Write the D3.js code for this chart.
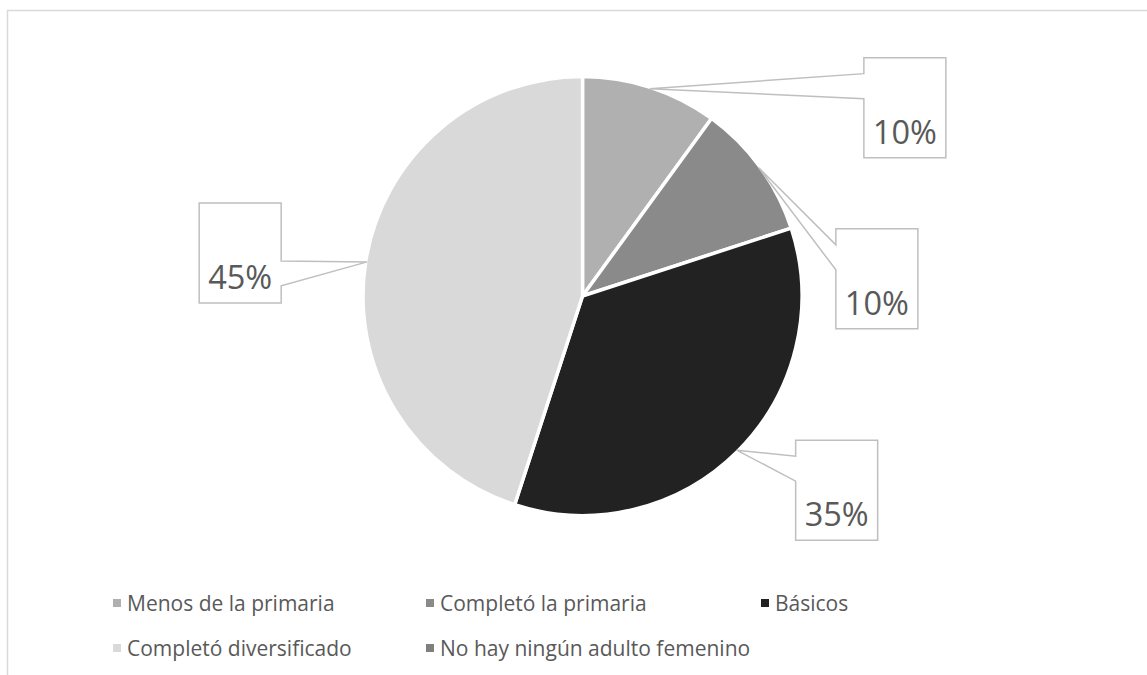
<!DOCTYPE html>
<html>
<head>
<meta charset="utf-8">
<script src="https://cdn.jsdelivr.net/npm/d3@7/dist/d3.min.js"></script>
<style>
  html, body { margin: 0; padding: 0; background: #fff; }
  svg { display: block; }
</style>
</head>
<body>
<svg id="chart" width="1147" height="675"></svg>
<script>
// Nivel educativo del adulto femenino del hogar
const categories = [
  "Menos de la primaria",
  "Completó la primaria",
  "Básicos",
  "Completó diversificado",
  "No hay ningún adulto femenino"
];
const values = [10, 10, 35, 45, 0];
const colors = ["#b0b0b0", "#8a8a8a", "#222222", "#d9d9d9", "#7f7f7f"];

// Callout placement for each data label: box offset from the anchor on the arc,
// which side of the box the pointer enters, and where along that side.
const calloutLayout = [
  { dx: 214, dy: -31, side: "left",  a0: 16, a1: 41 },
  { dx: 77,  dy: 61,  side: "left",  a0: 16, a1: 41 },
  { dx: 59,  dy: -10, side: "left",  a0: 16, a1: 41 },
  { dx: -168, dy: -59, side: "right", a0: 58, a1: 83 },
  null
];

const svg = d3.select("#chart");
const W = 1147, H = 675;
const font = "'Open Sans', 'Noto Sans', sans-serif";

// chart area frame
svg.append("rect")
  .attr("x", 7.5).attr("y", 10.5)
  .attr("width", W + 20).attr("height", H + 20)
  .attr("fill", "#fff")
  .attr("stroke", "#d9d9d9").attr("stroke-width", 1.5);

const cx = 582.5, cy = 296, r = 219.5;
const g = svg.append("g").attr("transform", `translate(${cx},${cy})`);

const pie = d3.pie().sort(null).value(d => d.value);
const arcs = pie(categories.map((c, i) => ({ name: c, value: values[i], i })));
const arc = d3.arc().innerRadius(0).outerRadius(r);

g.selectAll("path.slice")
  .data(arcs.filter(d => d.data.value > 0))
  .join("path")
  .attr("class", "slice")
  .attr("d", arc)
  .attr("fill", d => colors[d.data.i])
  .attr("stroke", "#fff")
  .attr("stroke-width", 3.5)
  .attr("stroke-linejoin", "round");

// data label callouts
const total = d3.sum(values);
const boxW = 82, boxH = 100;

arcs.forEach(d => {
  const lay = calloutLayout[d.data.i];
  if (!lay || d.data.value <= 0) return;
  const mid = (d.startAngle + d.endAngle) / 2;
  const ax = cx + Math.sin(mid) * (r - 1.5);
  const ay = cy - Math.cos(mid) * (r - 1.5);
  const x0 = ax + lay.dx, y0 = ay + lay.dy;
  const x1 = x0 + boxW, y1 = y0 + boxH;
  let p;
  if (lay.side === "left") {
    p = [[x0, y0], [x1, y0], [x1, y1], [x0, y1], [x0, y0 + lay.a1], [ax, ay], [x0, y0 + lay.a0]];
  } else {
    p = [[x0, y0], [x1, y0], [x1, y0 + lay.a0], [ax, ay], [x1, y0 + lay.a1], [x1, y1], [x0, y1]];
  }
  svg.append("path")
    .attr("d", d3.line()(p) + "Z")
    .attr("fill", "#fff")
    .attr("stroke", "#bfbfbf")
    .attr("stroke-width", 1.5)
    .attr("stroke-linejoin", "miter");
  svg.append("text")
    .attr("x", x0 + boxW / 2)
    .attr("y", y0 + 86)
    .attr("text-anchor", "middle")
    .attr("font-family", font)
    .attr("font-size", 32.5)
    .attr("fill", "#595959")
    .text(d3.format(".0%")(d.data.value / total));
});

// legend
const legendCols = [113, 426, 761];
const legendRows = [611, 656];
const legend = svg.append("g");
categories.forEach((c, i) => {
  const col = i % 3, row = Math.floor(i / 3);
  const lx = legendCols[col], ly = legendRows[row];
  legend.append("rect")
    .attr("x", lx).attr("y", ly - 12)
    .attr("width", 8).attr("height", 8)
    .attr("fill", colors[i]);
  legend.append("text")
    .attr("x", lx + 14).attr("y", ly)
    .attr("font-family", font)
    .attr("font-size", 21)
    .attr("fill", "#595959")
    .text(c);
});
</script>
</body>
</html>
